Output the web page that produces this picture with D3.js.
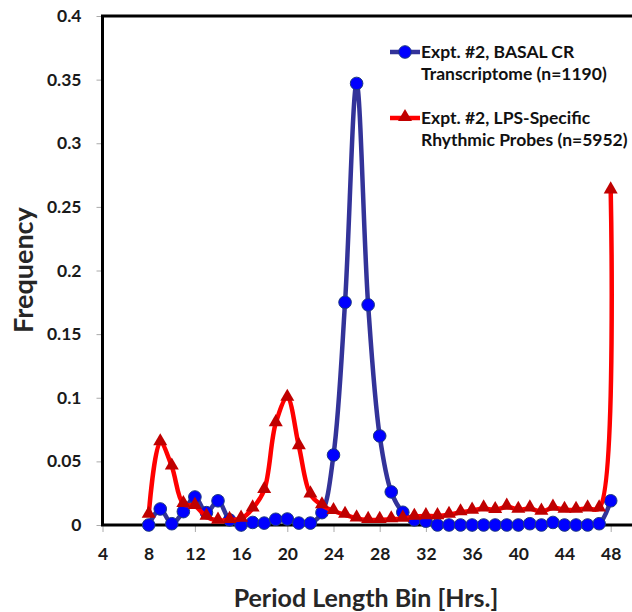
<!DOCTYPE html>
<html>
<head>
<meta charset="utf-8">
<script src="https://cdn.jsdelivr.net/npm/d3@7"></script>
<style>
    body { margin: 0; background: #fff; }
    svg text { font-family: Lato, "Open Sans", sans-serif; font-weight: bold; }
</style>
</head>
<body>
<svg id="chart" width="632" height="612"></svg>
<script>
// period length bins (hrs)
var bins = d3.range(8, 49);
// Expt. #2, BASAL CR Transcriptome (n=1190)
var basal = [0.000, 0.0126, 0.001, 0.0105, 0.022, 0.0097, 0.019, 0.004, 0.000, 0.002,
    0.0015, 0.0045, 0.0047, 0.0015, 0.0015, 0.0097, 0.055, 0.175, 0.347, 0.173,
    0.070, 0.026, 0.010, 0.004, 0.003, 0.000, 0.000, 0.000, 0.000, 0.000,
    0.000, 0.000, 0.000, 0.001, 0.000, 0.002, 0.000, 0.000, 0.000, 0.001, 0.019];
// Expt. #2, LPS-Specific Rhythmic Probes (n=5952)
var lps = [0.008, 0.065, 0.046, 0.0165, 0.015, 0.0065, 0.0034, 0.004, 0.005, 0.013,
    0.0275, 0.080, 0.100, 0.062, 0.024, 0.0155, 0.011, 0.008, 0.0052, 0.004,
    0.004, 0.0045, 0.005, 0.0065, 0.007, 0.007, 0.008, 0.010, 0.0113, 0.013,
    0.0118, 0.0144, 0.012, 0.013, 0.0105, 0.0136, 0.012, 0.012, 0.013, 0.013, 0.263];
var xTicks = [4, 8, 12, 16, 20, 24, 28, 32, 36, 40, 44, 48];
var yTicks = [0, 0.05, 0.1, 0.15, 0.2, 0.25, 0.3, 0.35, 0.4];
var legendLabels = [
    ["Expt. #2, BASAL CR", "Transcriptome (n=1190)"],
    ["Expt. #2, LPS-Specific", "Rhythmic Probes (n=5952)"]
];

var svg = d3.select("#chart");
var x = d3.scaleLinear().domain([4, 50]).range([102.5, 633.8]);
var y = d3.scaleLinear().domain([0, 0.4]).range([525, 16]);

// ticks
var yAxis = svg.append("g").attr("transform", "translate(102.5,0)")
    .call(d3.axisLeft(y).tickValues(yTicks).tickSize(6).tickPadding(15)
        .tickFormat(function (d) { return d === 0 ? "0" : String(+d.toFixed(2)); }));
var xAxis = svg.append("g").attr("transform", "translate(0,525)")
    .call(d3.axisBottom(x).tickValues(xTicks).tickSize(7).tickPadding(16));
[yAxis, xAxis].forEach(function (a) {
    a.select(".domain").remove();
    a.selectAll("line").attr("stroke", "#aaa");
    a.selectAll("text").style("font-size", "17.5px").attr("fill", "#1a1a1a");
});

// plot frame
svg.append("rect")
    .attr("x", x(4)).attr("y", y(0.4))
    .attr("width", 640 - x(4)).attr("height", y(0) - y(0.4))
    .attr("fill", "none").attr("stroke", "#000").attr("stroke-width", 3);

var line = d3.line()
    .x(function (d, i) { return x(bins[i]); })
    .y(function (d) { return y(d); })
    .curve(d3.curveCatmullRom.alpha(0.5));

var tri = d3.symbol().type(d3.symbolTriangle).size(85);

// basal series
svg.append("path").datum(basal).attr("d", line)
    .attr("fill", "none").attr("stroke", "#333399").attr("stroke-width", 4.5);
svg.append("g").selectAll("circle").data(basal).enter().append("circle")
    .attr("cx", function (d, i) { return x(bins[i]); })
    .attr("cy", function (d) { return y(d); })
    .attr("r", 6.3)
    .attr("fill", "#0000ff").attr("stroke", "#1f3a80").attr("stroke-width", 1);

// lps series
svg.append("path").datum(lps).attr("d", line)
    .attr("fill", "none").attr("stroke", "#ff0000").attr("stroke-width", 4.5);
svg.append("g").selectAll("path").data(lps).enter().append("path")
    .attr("d", tri)
    .attr("transform", function (d, i) {
        return "translate(" + x(bins[i]) + "," + (y(d) - 1) + ")";
    })
    .attr("fill", "#c00000");

// legend
var legend = svg.append("g");
var legendY = [52, 118];
legendLabels.forEach(function (lab, k) {
    var g = legend.append("g").attr("transform", "translate(0," + legendY[k] + ")");
    g.append("line").attr("x1", 390).attr("x2", 420).attr("y1", 0).attr("y2", 0)
        .attr("stroke", k === 0 ? "#333399" : "#ff0000").attr("stroke-width", 4.5);
    if (k === 0) {
        g.append("circle").attr("cx", 405).attr("cy", 0).attr("r", 6.3)
            .attr("fill", "#0000ff").attr("stroke", "#1f3a80");
    } else {
        g.append("path").attr("d", tri).attr("transform", "translate(405,-1)")
            .attr("fill", "#c00000");
    }
    lab.forEach(function (t, j) {
        g.append("text").attr("x", 421).attr("y", 5.5 + j * 22)
            .style("font-size", "17.5px").attr("fill", "#111").text(t);
    });
});

// axis titles
svg.append("text")
    .attr("transform", "translate(33,270) rotate(-90)")
    .attr("text-anchor", "middle")
    .style("font-size", "27px").attr("fill", "#262626")
    .text("Frequency");
svg.append("text")
    .attr("x", 366).attr("y", 607)
    .attr("text-anchor", "middle")
    .style("font-size", "25px").attr("fill", "#262626")
    .text("Period Length Bin [Hrs.]");
</script>
</body>
</html>
